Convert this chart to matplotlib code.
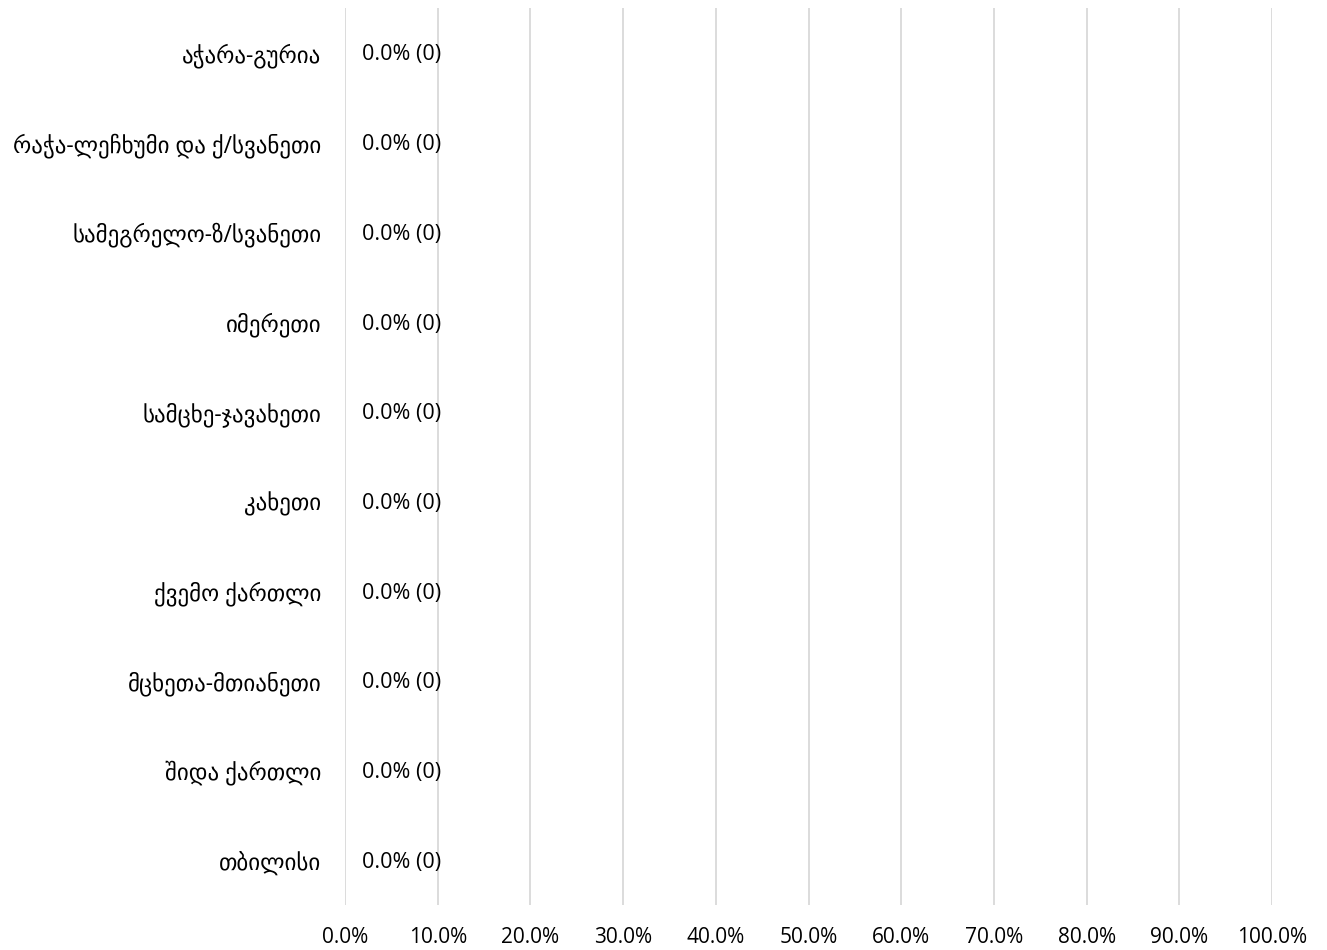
import numpy as np
import matplotlib.pyplot as plt

plt.rcParams['font.family'] = ['Open Sans', 'DejaVu Sans']

regions = ['აჭარა-გურია', 'რაჭა-ლეჩხუმი და ქ/სვანეთი', 'სამეგრელო-ზ/სვანეთი',
           'იმერეთი', 'სამცხე-ჯავახეთი', 'კახეთი', 'ქვემო ქართლი',
           'მცხეთა-მთიანეთი', 'შიდა ქართლი', 'თბილისი']
percent = [0.0, 0.0, 0.0, 0.0, 0.0, 0.0, 0.0, 0.0, 0.0, 0.0]
counts = [0, 0, 0, 0, 0, 0, 0, 0, 0, 0]
xticks = [0, 10, 20, 30, 40, 50, 60, 70, 80, 90, 100]

fig = plt.figure(figsize=(13.27, 9.5), dpi=100)
ax = fig.add_axes([0.26, 0.0474, 0.6986, 0.9442])

y = np.arange(len(regions))[::-1]
ax.barh(y, percent, height=0.6, color='#4472c4')
for yi, p, c in zip(y, percent, counts):
    ax.annotate('%.1f%% (%d)' % (p, c), (p, yi), xytext=(12.5, -1.5), textcoords='offset points',
                va='center', ha='left', fontsize=15.5, color='#000000')

ax.set_xlim(0, 100)
ax.set_ylim(-0.5, len(regions) - 0.5)
ax.set_yticks(y)
ax.set_yticklabels(regions, fontsize=16.5)
ax.set_xticks(xticks)
ax.set_xticklabels(['%.1f%%' % v for v in xticks], fontsize=15)
ax.tick_params(axis='both', length=0)
ax.tick_params(axis='y', pad=17)
ax.tick_params(axis='x', pad=16)
ax.grid(axis='x', color='#d9d9d9', linewidth=1.3)
ax.set_axisbelow(True)
for s in ax.spines.values():
    s.set_visible(False)

fig.savefig('out.png', dpi=100)
